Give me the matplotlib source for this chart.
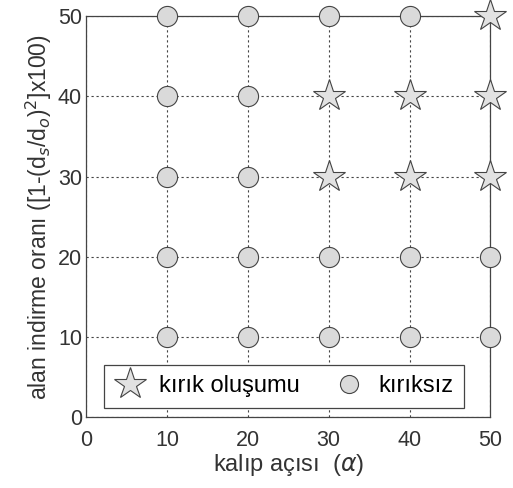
import matplotlib
matplotlib.use("Agg")
import matplotlib.pyplot as plt

plt.rcParams['font.family'] = ['Liberation Sans', 'DejaVu Sans']

# crack formation (stars)
star_x = [30, 40, 50, 30, 40, 50, 50]
star_y = [30, 30, 30, 40, 40, 40, 50]
# no crack (circles)
circ_x = [10, 20, 30, 40, 50, 10, 20, 30, 40, 50, 10, 20, 10, 20, 10, 20, 30, 40]
circ_y = [10, 10, 10, 10, 10, 20, 20, 20, 20, 20, 30, 30, 40, 40, 50, 50, 50, 50]
xticks = [0, 10, 20, 30, 40, 50]
yticks = [0, 10, 20, 30, 40, 50]
labels = ['kırık oluşumu', 'kırıksız']

fig = plt.figure(figsize=(5.13, 4.88), dpi=100)
ax = fig.add_axes([0.168, 0.145, 0.788, 0.822])

ax.plot(star_x, star_y, linestyle='none', marker='*', markersize=24,
        markerfacecolor='#e2e2e2', markeredgecolor='#444444', markeredgewidth=0.8,
        label=labels[0], clip_on=False, zorder=3)
ax.plot(circ_x, circ_y, linestyle='none', marker='o', markersize=14.5,
        markerfacecolor='#dadada', markeredgecolor='#444444', markeredgewidth=0.8,
        label=labels[1], clip_on=False, zorder=3)

ax.set_xlim(0, 50)
ax.set_ylim(0, 50)
ax.set_xticks(xticks)
ax.set_yticks(yticks)
ax.tick_params(direction='in', length=0, labelsize=15.5, colors='#333333')
ax.tick_params(axis='x', pad=9)
ax.tick_params(axis='y', pad=3)
ax.grid(True, linestyle=(0, (2, 2.5)), color='#444444', linewidth=0.8)
ax.set_axisbelow(True)
for s in ax.spines.values():
    s.set_color('#444444')
    s.set_linewidth(0.9)

ax.set_xlabel('kalıp açısı  ($\\alpha$)', fontsize=17, color='#333333', labelpad=1)
ax.set_ylabel('alan indirme oranı ([1-(d$_s$/d$_o$)$^2$]x100)', fontsize=16.5,
              color='#333333', labelpad=3)

leg = ax.legend(loc='center', bbox_to_anchor=(0.489, 0.077), ncol=2,
                fontsize=17, frameon=True, fancybox=False, edgecolor='#444444',
                handlelength=1.3, columnspacing=1.4, borderpad=0.45,
                handletextpad=0.6, framealpha=1, borderaxespad=0)
leg.get_frame().set_linewidth(0.9)
leg.legend_handles[1].set_markersize(13)

fig.savefig('out.png', dpi=100)
